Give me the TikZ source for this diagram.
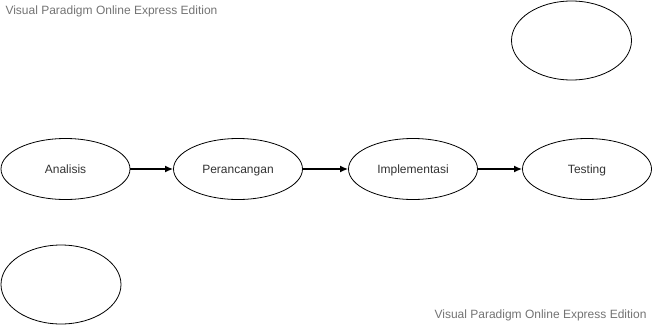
\documentclass[tikz,border=0pt]{standalone}
\usepackage{fontspec}
\setmainfont{Liberation Sans}
\usetikzlibrary{shapes.geometric,arrows.meta}
\definecolor{mytext}{rgb}{0.2,0.2,0.2}
\definecolor{mygray}{rgb}{0.45,0.45,0.45}

\begin{document}
\begin{tikzpicture}[x=1pt,y=-1pt,
    stage/.style={draw,ellipse,line width=0.8pt,minimum width=129pt,minimum height=61pt,
      inner sep=0pt,text height=1.8ex,text depth=0ex,
      font=\fontsize{12}{14}\selectfont,text=mytext},
    blank/.style={draw,ellipse,line width=0.8pt,minimum width=120pt,minimum height=79pt},
    flow/.style={-{Latex[length=8pt,width=7pt]},line width=1.5pt},
    stamp/.style={font=\fontsize{12}{14}\selectfont,text=mygray}]
  \useasboundingbox (0,0) rectangle (653,327);
  % edition stamps in the corners
  \node[stamp,anchor=west] (stampa) at (2,11) {Visual Paradigm Online Express Edition};
  \node[stamp,anchor=east] (stampb) at (650,315) {Visual Paradigm Online Express Edition};
  % the four stages, left to right
  \node[stage] (analisis) at (65.5,169) {Analisis};
  \node[stage] (perancangan) at (238,169) {Perancangan};
  \node[stage] (implementasi) at (413,169) {Implementasi};
  \node[stage] (testing) at (587,169) {Testing};
  \draw[flow] (analisis) -- (perancangan);
  \draw[flow] (perancangan) -- (implementasi);
  \draw[flow] (implementasi) -- (testing);
  % two empty ellipses
  \node[blank] (emptya) at (571.5,40.5) {};
  \node[blank] (emptyb) at (61,284.5) {};
\end{tikzpicture}
\end{document}
